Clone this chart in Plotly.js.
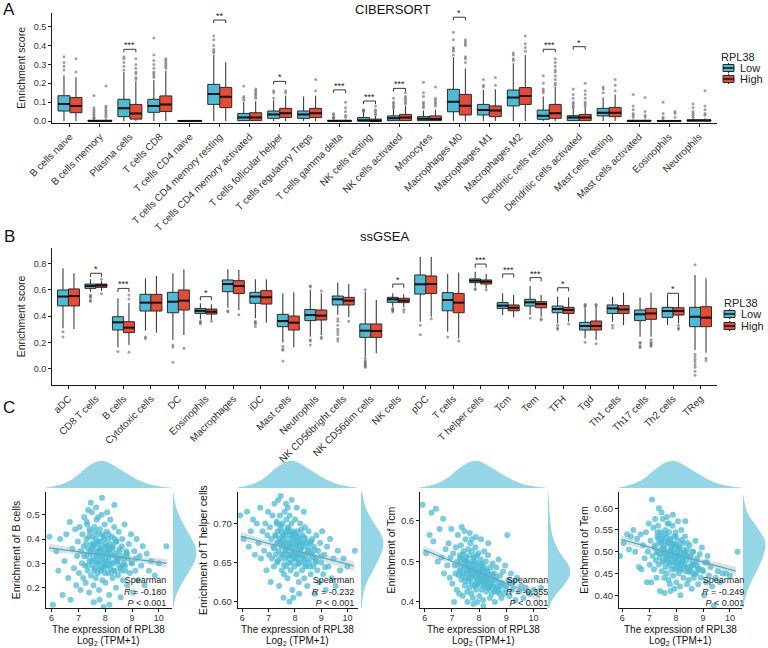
<!DOCTYPE html>
<html>
<head>
<meta charset="utf-8">
<script src="https://cdn.plot.ly/plotly-3.0.1.min.js"></script>
<style>
html,body{margin:0;padding:0;background:#fff}
#chart{width:768px;height:648px;opacity:0.999}
</style>
</head>
<body>
<div id="chart"></div>
<script>
// ---------------- Panel A: CIBERSORT, RPL38 Low vs High ----------------
const ciberCells = ['B cells naive','B cells memory','Plasma cells','T cells CD8','T cells CD4 naive',
  'T cells CD4 memory resting','T cells CD4 memory activated','T cells follicular helper',
  'T cells regulatory Tregs','T cells gamma delta','NK cells resting','NK cells activated','Monocytes',
  'Macrophages M0','Macrophages M1','Macrophages M2','Dendritic cells resting','Dendritic cells activated',
  'Mast cells resting','Mast cells activated','Eosinophils','Neutrophils'];
const ciberLowQ1  = [0.053,0,0.023,0.046,0,0.088,0.002,0.014,0.014,0,0,0.002,0.002,0.049,0.032,0.080,0.009,0.002,0.027,0,0,0];
const ciberLowMed = [0.090,0,0.067,0.080,0,0.143,0.019,0.035,0.035,0,0.002,0.014,0.012,0.102,0.058,0.124,0.028,0.018,0.044,0,0,0.002];
const ciberLowQ3  = [0.134,0.004,0.115,0.115,0.003,0.194,0.040,0.053,0.053,0.004,0.018,0.027,0.023,0.168,0.088,0.164,0.058,0.028,0.067,0.004,0.003,0.006];
const ciberLowMin = [0,0,0,0,0,0,0,0,0,0,0,0,0,0,0,0,0,0,0,0,0,0];
const ciberLowMax = [0.242,0.010,0.260,0.217,0.003,0.350,0.100,0.110,0.130,0.008,0.045,0.065,0.055,0.338,0.164,0.306,0.130,0.065,0.125,0.008,0.005,0.014];
const ciberHighQ1  = [0.044,0,0.010,0.050,0,0.071,0.002,0.019,0.018,0,0,0.002,0.002,0.032,0.023,0.088,0.014,0.002,0.023,0,0,0];
const ciberHighMed = [0.080,0,0.040,0.088,0,0.129,0.019,0.041,0.041,0,0,0.018,0.011,0.081,0.055,0.133,0.041,0.018,0.044,0,0,0.002];
const ciberHighQ3  = [0.124,0.004,0.088,0.133,0.003,0.178,0.044,0.067,0.067,0.004,0.010,0.035,0.027,0.141,0.080,0.177,0.088,0.035,0.072,0.004,0.003,0.006];
const ciberHighMin = [0,0,0,0,0,0,0,0,0,0,0,0,0,0,0,0,0,0,0,0,0,0];
const ciberHighMax = [0.232,0.010,0.210,0.267,0.003,0.311,0.105,0.135,0.134,0.008,0.025,0.080,0.060,0.279,0.168,0.350,0.180,0.075,0.140,0.008,0.005,0.014];
const ciberLowOut = [[0.34,0.31,0.29,0.27],[0.135,0.07,0.06,0.05,0.04,0.03,0.02,0.015],[0.34,0.33,0.31,0.29,0.27],
  [0.44,0.35,0.32,0.30,0.28,0.26,0.25,0.24,0.23],[],[0.45,0.43,0.40,0.38,0.37,0.36],[0.185,0.13,0.12,0.11],
  [0.16,0.15,0.12],[],[0.04,0.03,0.02,0.015],[0.06,0.055,0.05],[0.12,0.10,0.09,0.08,0.07],
  [0.205,0.15,0.13,0.10,0.09,0.08,0.07],[0.47,0.43,0.39,0.38,0.37,0.35],[0.22,0.19,0.18],[0.36,0.35,0.33,0.32],
  [0.24,0.20,0.17,0.16,0.15],[0.17,0.14,0.12,0.10,0.09,0.08,0.07],[0.18,0.17,0.15],[0.14,0.08,0.06,0.04,0.03,0.02],
  [0.10,0.04,0.02,0.01],[0.09,0.07,0.05,0.04,0.03,0.02]];
const ciberHighOut = [[0.33,0.26],[0.185,0.08,0.07,0.06,0.05,0.04,0.03,0.02],[0.33,0.30,0.28,0.26,0.25,0.23,0.22],
  [0.33,0.32,0.31,0.30,0.29,0.28],[],[],[0.17,0.16,0.15,0.14,0.13,0.12],[0.16,0.15],[0.22,0.16],
  [0.10,0.07,0.05,0.03,0.02],[0.08,0.06,0.05,0.04,0.03],[0.15,0.13,0.12,0.11,0.10,0.09],
  [0.18,0.12,0.11,0.10,0.09,0.08],[0.43,0.42,0.41,0.40,0.34,0.33,0.31],[0.23,0.19],[0.45,0.41,0.39,0.37],
  [0.33,0.31,0.29,0.27,0.26,0.24,0.22,0.20,0.19],[0.20,0.16,0.14,0.12,0.10,0.09,0.08],[0.22,0.19,0.16],
  [0.125,0.05,0.03,0.02],[0.05,0.04,0.02],[0.16,0.08,0.06,0.04,0.03]];
const ciberSigIdx = [2,5,7,9,10,11,13,16,17];
const ciberSigLab = ['***','**','*','***','***','***','*','***','*'];
const ciberSigY   = [0.38,0.535,0.21,0.165,0.106,0.173,0.55,0.38,0.394];

// ---------------- Panel B: ssGSEA, RPL38 Low vs High ----------------
const ssCells = ['aDC','CD8 T cells','B cells','Cytotoxic cells','DC','Eosinophils','Macrophages','iDC',
  'Mast cells','Neutrophils','NK CD56bright cells','NK CD56dim cells','NK cells','pDC','T cells',
  'T helper cells','Tcm','Tem','TFH','Tgd','Th1 cells','Th17 cells','Th2 cells','TReg'];
const ssLowQ1  = [0.477,0.610,0.294,0.438,0.425,0.420,0.585,0.497,0.319,0.365,0.484,0.238,0.504,0.567,0.440,0.654,0.458,0.476,0.425,0.294,0.420,0.365,0.390,0.319];
const ssLowMed = [0.548,0.628,0.352,0.502,0.509,0.440,0.643,0.548,0.362,0.408,0.527,0.289,0.527,0.641,0.522,0.669,0.479,0.504,0.453,0.324,0.458,0.413,0.438,0.395];
const ssLowQ3  = [0.598,0.643,0.395,0.565,0.580,0.458,0.674,0.580,0.413,0.450,0.552,0.340,0.542,0.712,0.578,0.682,0.502,0.527,0.476,0.352,0.484,0.446,0.466,0.466];
const ssLowMin = [0.306,0.585,0.162,0.289,0.218,0.375,0.463,0.383,0.198,0.243,0.408,0.091,0.471,0.357,0.281,0.623,0.408,0.408,0.345,0.230,0.357,0.243,0.332,0.142];
const ssLowMax = [0.763,0.679,0.535,0.686,0.725,0.497,0.755,0.679,0.573,0.600,0.654,0.585,0.573,0.850,0.720,0.737,0.573,0.628,0.547,0.460,0.547,0.542,0.552,0.712];
const ssHighQ1  = [0.477,0.618,0.274,0.438,0.446,0.415,0.572,0.491,0.294,0.370,0.484,0.238,0.502,0.572,0.425,0.643,0.440,0.463,0.420,0.294,0.420,0.375,0.408,0.319];
const ssHighMed = [0.552,0.633,0.312,0.502,0.517,0.433,0.628,0.542,0.350,0.403,0.517,0.286,0.517,0.643,0.502,0.661,0.463,0.492,0.446,0.324,0.450,0.420,0.438,0.388];
const ssHighQ3  = [0.606,0.643,0.357,0.565,0.598,0.453,0.669,0.593,0.400,0.446,0.542,0.340,0.535,0.704,0.572,0.674,0.484,0.509,0.466,0.362,0.479,0.458,0.463,0.471];
const ssHighMin = [0.300,0.590,0.180,0.274,0.256,0.370,0.446,0.350,0.162,0.256,0.390,0.117,0.466,0.395,0.230,0.610,0.390,0.395,0.357,0.218,0.332,0.243,0.345,0.122];
const ssHighMax = [0.725,0.665,0.500,0.704,0.755,0.490,0.750,0.679,0.580,0.573,0.643,0.522,0.565,0.850,0.730,0.720,0.560,0.560,0.542,0.476,0.578,0.578,0.547,0.686];
const ssLowOut = [[0.28,0.24],[0.56,0.55,0.54,0.52,0.51],[0.13],[0.24,0.23],[0.18,0.165,0.048],[0.36,0.35,0.34],
  [0.44,0.43],[0.36,0.35,0.34,0.32],[0.17,0.15,0.14,0.058],[0.63,0.62,0.22,0.21,0.18],
  [0.38,0.36,0.33,0.30,0.28,0.26,0.23,0.21],[0.60,0.08,0.06,0.05,0.04,0.03,0.02,0.01],[0.46,0.45,0.44,0.43],
  [0.33,0.26],[0.24],[0.61,0.60],[],[0.385],[0.33,0.31,0.30],[0.49,0.48,0.47,0.20],[0.33,0.31],
  [0.20,0.19,0.17,0.16],[],[0.11,0.09,0.07,0.05,0.03,0.01,-0.02,-0.05,0.79]];
const ssHighOut = [[],[0.68,0.57],[0.56,0.53,0.125],[],[0.155],[0.36],[0.41],[],[],[0.59,0.24,0.23],[0.36],[],
  [0.45,0.43],[0.38],[0.21],[0.60],[],[0.38,0.37],[0.34],[0.49,0.48,0.19],[],[0.22,0.20,0.19,0.18,0.17],
  [0.33,0.31,0.30],[0.08,0.06]];
const ssSigIdx = [1,2,5,12,15,16,17,18,22];
const ssSigLab = ['*','***','*','*','***','***','***','*','*'];
const ssSigY   = [0.725,0.61,0.547,0.643,0.795,0.72,0.692,0.615,0.573];

// ---------------- Panel C: RPL38 expression vs ssGSEA scores ----------------
const rplExpr = [5.92,6.05,6.18,6.25,6.32,6.41,6.48,6.55,6.62,6.68,
  6.71,6.77,6.83,6.88,6.92,6.95,6.98,7.02,7.05,7.08,
  7.10,7.13,7.15,7.18,7.20,7.22,7.25,7.27,7.30,7.31,
  7.33,7.35,7.37,7.40,7.41,7.43,7.45,7.47,7.48,7.50,
  7.52,7.53,7.55,7.56,7.58,7.60,7.61,7.62,7.64,7.65,
  7.67,7.68,7.70,7.71,7.72,7.74,7.75,7.77,7.78,7.80,
  7.81,7.83,7.84,7.86,7.87,7.89,7.90,7.92,7.93,7.95,
  7.96,7.98,8.00,8.01,8.03,8.04,8.06,8.08,8.10,8.11,
  8.13,8.15,8.17,8.19,8.20,8.22,8.25,8.27,8.29,8.31,
  8.33,8.36,8.38,8.40,8.42,8.45,8.47,8.50,8.52,8.55,
  8.58,8.60,8.63,8.66,8.69,8.72,8.75,8.78,8.82,8.85,
  8.88,8.92,8.96,9.00,9.04,9.08,9.12,9.17,9.22,9.28,
  9.34,9.40,9.47,9.55,9.63,9.72,9.85,10.00,10.28,7.46,
  7.66,7.88,8.07,7.57,7.79,8.16,7.36,7.94,8.34,7.73,
  7.21,7.28,7.34,7.39,7.44,7.49,7.54,7.59,7.63,7.69,
  7.74,7.76,7.82,7.85,7.91,7.97,7.99,8.02,8.05,8.09,
  8.12,8.14,8.18,8.21,8.24,8.28,8.32,8.37,8.41,8.46,
  8.51,8.57,8.62,8.68,8.74,8.81,7.42,7.51,7.63,7.70,
  7.79,7.85,7.91,8.00,8.06,8.12,8.23,8.35,8.48,8.64,
  7.31,7.55,7.76,7.97,8.18,8.39,8.59,8.79,8.98,9.15];
const bCellScore = [0.41,0.13,0.35,0.27,0.40,0.17,0.31,0.42,0.24,0.47,
  0.15,0.36,0.28,0.44,0.21,0.33,0.39,0.26,0.45,0.19,
  0.35,0.30,0.42,0.24,0.37,0.49,0.29,0.22,0.40,0.33,
  0.46,0.27,0.36,0.18,0.31,0.43,0.34,0.25,0.38,0.51,
  0.29,0.41,0.32,0.21,0.37,0.45,0.28,0.35,0.40,0.24,
  0.33,0.48,0.30,0.38,0.26,0.42,0.35,0.19,0.31,0.44,
  0.36,0.27,0.39,0.33,0.50,0.23,0.37,0.30,0.41,0.28,
  0.34,0.46,0.32,0.22,0.38,0.29,0.43,0.35,0.26,0.40,
  0.31,0.17,0.36,0.48,0.28,0.33,0.41,0.24,0.37,0.30,
  0.45,0.27,0.34,0.20,0.39,0.31,0.25,0.43,0.29,0.36,
  0.16,0.33,0.40,0.23,0.30,0.46,0.27,0.35,0.21,0.32,
  0.38,0.26,0.42,0.30,0.18,0.35,0.27,0.40,0.23,0.33,
  0.29,0.37,0.21,0.34,0.27,0.31,0.25,0.30,0.37,0.55,
  0.53,0.57,0.51,0.14,0.15,0.13,0.52,0.12,0.54,0.49,
  0.33,0.38,0.29,0.41,0.35,0.31,0.37,0.27,0.43,0.34,
  0.30,0.39,0.36,0.28,0.32,0.40,0.26,0.35,0.31,0.37,
  0.42,0.29,0.34,0.38,0.30,0.36,0.27,0.33,0.39,0.31,
  0.35,0.28,0.37,0.32,0.29,0.34,0.44,0.36,0.31,0.39,
  0.28,0.35,0.42,0.30,0.37,0.33,0.26,0.40,0.32,0.29,
  0.47,0.38,0.33,0.29,0.36,0.31,0.27,0.34,0.30,0.32];
const tHelperScore = [0.710,0.680,0.715,0.670,0.690,0.705,0.660,0.700,0.675,0.720,
  0.655,0.690,0.665,0.700,0.640,0.685,0.715,0.660,0.695,0.625,
  0.680,0.655,0.710,0.670,0.645,0.725,0.685,0.660,0.700,0.675,
  0.650,0.690,0.665,0.620,0.680,0.710,0.655,0.675,0.695,0.640,
  0.670,0.700,0.660,0.685,0.635,0.675,0.715,0.655,0.690,0.670,
  0.645,0.705,0.665,0.680,0.630,0.695,0.660,0.675,0.650,0.710,
  0.670,0.685,0.640,0.660,0.700,0.675,0.615,0.665,0.690,0.655,
  0.680,0.645,0.670,0.705,0.660,0.685,0.635,0.675,0.655,0.690,
  0.665,0.625,0.680,0.650,0.700,0.660,0.675,0.640,0.685,0.655,
  0.670,0.630,0.695,0.660,0.645,0.675,0.620,0.665,0.690,0.650,
  0.675,0.635,0.660,0.680,0.645,0.670,0.610,0.655,0.685,0.640,
  0.665,0.625,0.675,0.650,0.690,0.635,0.660,0.615,0.670,0.645,
  0.680,0.630,0.655,0.620,0.665,0.640,0.655,0.645,0.665,0.735,
  0.725,0.730,0.720,0.605,0.600,0.610,0.730,0.605,0.715,0.720,
  0.668,0.684,0.652,0.676,0.690,0.661,0.679,0.647,0.686,0.670,
  0.657,0.693,0.673,0.650,0.681,0.664,0.688,0.655,0.672,0.660,
  0.683,0.648,0.676,0.667,0.692,0.658,0.674,0.651,0.680,0.662,
  0.669,0.645,0.677,0.656,0.666,0.652,0.698,0.683,0.665,0.689,
  0.671,0.659,0.686,0.663,0.678,0.649,0.668,0.682,0.654,0.661,
  0.702,0.674,0.690,0.657,0.670,0.646,0.663,0.650,0.658,0.644];
const tcmScore = [0.640,0.520,0.565,0.620,0.550,0.630,0.500,0.580,0.510,0.605,
  0.470,0.530,0.490,0.545,0.460,0.510,0.580,0.445,0.520,0.400,
  0.490,0.470,0.535,0.430,0.500,0.565,0.465,0.420,0.515,0.480,
  0.540,0.455,0.495,0.415,0.470,0.525,0.485,0.440,0.505,0.555,
  0.460,0.510,0.475,0.425,0.495,0.530,0.450,0.480,0.515,0.435,
  0.470,0.545,0.460,0.500,0.420,0.525,0.480,0.410,0.465,0.510,
  0.490,0.440,0.500,0.470,0.535,0.430,0.485,0.455,0.515,0.445,
  0.475,0.520,0.460,0.415,0.490,0.450,0.505,0.470,0.430,0.495,
  0.455,0.405,0.480,0.525,0.440,0.465,0.500,0.425,0.475,0.450,
  0.515,0.435,0.460,0.410,0.485,0.445,0.420,0.495,0.440,0.470,
  0.400,0.455,0.485,0.425,0.450,0.505,0.430,0.465,0.410,0.445,
  0.475,0.420,0.490,0.440,0.565,0.455,0.415,0.470,0.430,0.450,
  0.405,0.460,0.425,0.440,0.410,0.435,0.420,0.430,0.435,0.575,
  0.570,0.560,0.555,0.400,0.395,0.390,0.585,0.400,0.545,0.555,
  0.492,0.476,0.505,0.465,0.488,0.452,0.498,0.471,0.460,0.483,
  0.447,0.495,0.468,0.512,0.457,0.480,0.443,0.474,0.462,0.490,
  0.452,0.470,0.438,0.485,0.458,0.446,0.476,0.433,0.466,0.441,
  0.455,0.428,0.462,0.438,0.421,0.447,0.518,0.500,0.487,0.463,
  0.478,0.442,0.496,0.466,0.451,0.482,0.457,0.437,0.468,0.432,
  0.510,0.485,0.473,0.460,0.449,0.455,0.427,0.440,0.432,0.446];
const temScore = [0.490,0.520,0.540,0.505,0.535,0.550,0.500,0.530,0.465,0.540,
  0.460,0.515,0.485,0.545,0.430,0.500,0.565,0.470,0.525,0.430,
  0.620,0.490,0.555,0.460,0.510,0.575,0.480,0.440,0.535,0.500,
  0.560,0.470,0.520,0.410,0.495,0.545,0.505,0.455,0.530,0.575,
  0.480,0.525,0.495,0.440,0.515,0.550,0.465,0.500,0.535,0.450,
  0.490,0.565,0.475,0.520,0.435,0.545,0.500,0.425,0.485,0.530,
  0.510,0.460,0.520,0.490,0.560,0.445,0.505,0.475,0.535,0.460,
  0.495,0.545,0.480,0.430,0.515,0.470,0.525,0.490,0.450,0.510,
  0.475,0.420,0.500,0.550,0.460,0.485,0.520,0.440,0.495,0.470,
  0.535,0.455,0.480,0.425,0.505,0.465,0.435,0.515,0.460,0.490,
  0.415,0.475,0.500,0.440,0.470,0.525,0.450,0.485,0.425,0.460,
  0.495,0.440,0.510,0.455,0.400,0.475,0.430,0.490,0.445,0.465,
  0.420,0.375,0.440,0.455,0.430,0.450,0.450,0.445,0.500,0.590,
  0.580,0.585,0.570,0.405,0.410,0.400,0.600,0.415,0.570,0.565,
  0.515,0.498,0.530,0.488,0.522,0.476,0.508,0.540,0.495,0.482,
  0.526,0.470,0.503,0.491,0.518,0.463,0.535,0.485,0.500,0.472,
  0.512,0.458,0.494,0.527,0.480,0.505,0.466,0.490,0.520,0.454,
  0.487,0.468,0.500,0.448,0.478,0.460,0.538,0.510,0.486,0.524,
  0.497,0.475,0.515,0.489,0.506,0.462,0.481,0.499,0.457,0.470,
  0.545,0.503,0.519,0.484,0.471,0.493,0.452,0.467,0.458,0.476];

// marginal density of RPL38 expression (top strips)
const exprDensX = [5.75,6.0,6.3,6.6,6.9,7.2,7.5,7.75,7.9,8.1,8.4,8.7,9.0,9.3,9.6,9.9,10.2,10.45];
const exprDensY = [0.01,0.03,0.07,0.14,0.25,0.40,0.53,0.59,0.60,0.57,0.47,0.36,0.25,0.16,0.09,0.05,0.02,0.005];
// marginal densities of the scores (right strips)
const bCellDensV = [0.12,0.16,0.20,0.24,0.28,0.31,0.34,0.37,0.40,0.44,0.48,0.52,0.56,0.59];
const bCellDensD = [0.1,0.5,1.3,2.4,3.6,4.3,4.6,4.4,3.7,2.6,1.6,0.8,0.3,0.1];
const tHelperDensV = [0.59,0.61,0.625,0.64,0.655,0.665,0.675,0.685,0.695,0.71,0.72,0.735,0.745];
const tHelperDensD = [0.5,2,5,10,15,17.5,18.5,17,13,7,4,1.5,0.5];
const tcmDensV = [0.38,0.40,0.42,0.44,0.46,0.475,0.49,0.51,0.53,0.56,0.59,0.62,0.65,0.67];
const tcmDensD = [0.3,1.5,4,7,9.5,10.2,9.5,7,4.5,2.2,1.2,0.7,0.4,0.1];
const temDensV = [0.37,0.39,0.41,0.43,0.45,0.47,0.49,0.51,0.52,0.53,0.55,0.57,0.59,0.61,0.63];
const temDensD = [0.3,1,2.5,4.5,7,9.5,11.5,12.5,12.6,12,9,5.5,2.5,1,0.3];

// linear fits with confidence bands
const bCellFitX = [5.91,8.0,10.29], bCellFitY = [0.364,0.334,0.300], bCellFitLo = [0.346,0.329,0.282], bCellFitHi = [0.382,0.339,0.318];
const tHelperFitX = [5.94,8.0,10.24], tHelperFitY = [0.6837,0.6655,0.6457], tHelperFitLo = [0.678,0.6635,0.639], tHelperFitHi = [0.689,0.6675,0.652];
const tcmFitX = [5.95,8.0,10.25], tcmFitY = [0.529,0.4732,0.412], tcmFitLo = [0.519,0.4705,0.400], tcmFitHi = [0.539,0.476,0.424];
const temFitX = [5.96,8.0,10.22], temFitY = [0.5285,0.4936,0.4556], temFitLo = [0.519,0.491,0.445], temFitHi = [0.538,0.496,0.466];

const corrR = ['-0.180','-0.232','-0.355','-0.249'];
const corrTitles = ['Enrichment of B cells','Enrichment of T helper cells','Enrichment of Tcm','Enrichment of Tem'];

// ---------------- drawing ----------------
const W = 768, H = 648;
const px = v => v / W, py = v => 1 - v / H;
const LOW_COL = '#4DBBD5', HIGH_COL = '#E64B35';
const OFF = 0.2, BW = 0.4;
const FONT = 'Liberation Sans, Arial, Helvetica, sans-serif';
const traces = [];
const annotations = [];
const shapes = [];

function boxTrace(sign, q1, med, q3, lo, hi, color, xa, ya) {
  return {type:'box', x:q1.map((_, i) => i + sign*OFF), q1, median:med, q3, lowerfence:lo, upperfence:hi,
    width:BW, whiskerwidth:0, boxpoints:false, fillcolor:color, line:{color:'#2b2b2b', width:1},
    xaxis:xa, yaxis:ya, showlegend:false, hoverinfo:'skip'};
}
function medianTrace(sign, med, xa, ya) {
  const x = [], y = [];
  med.forEach((m, i) => { x.push(i + sign*OFF - BW/2, i + sign*OFF + BW/2, null); y.push(m, m, null); });
  return {type:'scatter', mode:'lines', x, y, line:{color:'#111', width:2}, xaxis:xa, yaxis:ya, showlegend:false, hoverinfo:'skip'};
}
function outlierTrace(sign, outs, xa, ya) {
  const x = [], y = [];
  outs.forEach((arr, i) => arr.forEach(v => { x.push(i + sign*OFF); y.push(v); }));
  return {type:'scatter', mode:'markers', x, y, marker:{color:'rgba(70,70,70,0.5)', size:3},
    xaxis:xa, yaxis:ya, showlegend:false, hoverinfo:'skip'};
}
function sigMarks(idx, lab, hgt, tip, xa, ya) {
  const x = [], y = [];
  idx.forEach((i, k) => {
    x.push(i - OFF, i - OFF, i + OFF, i + OFF, null);
    y.push(hgt[k] - tip, hgt[k], hgt[k], hgt[k] - tip, null);
    annotations.push({x:i, y:hgt[k], xref:xa, yref:ya, text:lab[k], showarrow:false, yanchor:'bottom',
      yshift:-3, font:{size:9, color:'#222'}});
  });
  traces.push({type:'scatter', mode:'lines', x, y, line:{color:'#222', width:0.9}, xaxis:xa, yaxis:ya, showlegend:false, hoverinfo:'skip'});
}

// Panel A boxes
traces.push(boxTrace(-1, ciberLowQ1, ciberLowMed, ciberLowQ3, ciberLowMin, ciberLowMax, LOW_COL, 'x', 'y'));
traces.push(boxTrace(1, ciberHighQ1, ciberHighMed, ciberHighQ3, ciberHighMin, ciberHighMax, HIGH_COL, 'x', 'y'));
traces.push(outlierTrace(-1, ciberLowOut, 'x', 'y'));
traces.push(outlierTrace(1, ciberHighOut, 'x', 'y'));
traces.push(medianTrace(-1, ciberLowMed, 'x', 'y'));
traces.push(medianTrace(1, ciberHighMed, 'x', 'y'));
sigMarks(ciberSigIdx, ciberSigLab, ciberSigY, 0.016, 'x', 'y');

// Panel B boxes
traces.push(boxTrace(-1, ssLowQ1, ssLowMed, ssLowQ3, ssLowMin, ssLowMax, LOW_COL, 'x2', 'y2'));
traces.push(boxTrace(1, ssHighQ1, ssHighMed, ssHighQ3, ssHighMin, ssHighMax, HIGH_COL, 'x2', 'y2'));
traces.push(outlierTrace(-1, ssLowOut, 'x2', 'y2'));
traces.push(outlierTrace(1, ssHighOut, 'x2', 'y2'));
traces.push(medianTrace(-1, ssLowMed, 'x2', 'y2'));
traces.push(medianTrace(1, ssHighMed, 'x2', 'y2'));
sigMarks(ssSigIdx, ssSigLab, ssSigY, 0.028, 'x2', 'y2');

// Panel C scatter plots with marginal densities
const cPanels = [
  {score:bCellScore, dv:bCellDensV, dd:bCellDensD, fx:bCellFitX, fy:bCellFitY, lo:bCellFitLo, hi:bCellFitHi},
  {score:tHelperScore, dv:tHelperDensV, dd:tHelperDensD, fx:tHelperFitX, fy:tHelperFitY, lo:tHelperFitLo, hi:tHelperFitHi},
  {score:tcmScore, dv:tcmDensV, dd:tcmDensD, fx:tcmFitX, fy:tcmFitY, lo:tcmFitLo, hi:tcmFitHi},
  {score:temScore, dv:temDensV, dd:temDensD, fx:temFitX, fy:temFitY, lo:temFitLo, hi:temFitHi}
];
cPanels.forEach((p, k) => {
  const xa = 'x' + (k + 3), ya = 'y' + (k + 3), xd = 'x' + (k + 7);
  traces.push({type:'scatter', mode:'markers', x:rplExpr, y:p.score, xaxis:xa, yaxis:ya,
    marker:{color:'rgba(77,187,213,0.75)', size:6}, showlegend:false, hoverinfo:'skip', cliponaxis:true});
  traces.push({type:'scatter', mode:'lines', x:p.fx.concat(p.fx.slice().reverse()), y:p.lo.concat(p.hi.slice().reverse()),
    fill:'toself', fillcolor:'rgba(170,170,170,0.35)', line:{width:0}, xaxis:xa, yaxis:ya, showlegend:false, hoverinfo:'skip'});
  traces.push({type:'scatter', mode:'lines', x:p.fx, y:p.fy, line:{color:'#3FB3D2', width:1.2}, xaxis:xa, yaxis:ya, showlegend:false, hoverinfo:'skip'});
  traces.push({type:'scatter', mode:'lines', x:exprDensX, y:exprDensY, fill:'tozeroy', fillcolor:'rgba(77,187,213,0.6)',
    line:{width:0, shape:'spline'}, xaxis:xa, yaxis:'y7', showlegend:false, hoverinfo:'skip'});
  traces.push({type:'scatter', mode:'lines', x:p.dd, y:p.dv, fill:'tozerox', fillcolor:'rgba(77,187,213,0.6)',
    line:{width:0, shape:'spline'}, xaxis:xd, yaxis:ya, showlegend:false, hoverinfo:'skip'});
});

// axes
const tickFontAB = {size:10, color:'#333333', family:FONT};
const tickFontC = {size:9.5, color:'#333333', family:FONT};
const axBase = {showline:true, linecolor:'#1a1a1a', linewidth:1, ticks:'outside', ticklen:3, tickcolor:'#1a1a1a',
  tickwidth:1, showgrid:false, zeroline:false, fixedrange:true, tickfont:{size:9, color:'#333333', family:FONT}};
const layout = {
  width:W, height:H, margin:{l:0, r:0, t:0, b:0}, paper_bgcolor:'#fff', plot_bgcolor:'rgba(0,0,0,0)',
  font:{family:FONT, color:'#222'}, showlegend:false,
  xaxis:Object.assign({}, axBase, {domain:[px(52), px(717)], range:[-0.6, 21.6], anchor:'y',
    tickvals:ciberCells.map((_, i) => i), ticktext:ciberCells, tickangle:-45, tickfont:tickFontAB}),
  yaxis:Object.assign({}, axBase, {domain:[py(123), py(12.7)], range:[-0.0106, 0.574], anchor:'x',
    tickvals:[0,0.1,0.2,0.3,0.4,0.5], tickformat:'.1f', title:{text:'Enrichment score', font:{size:10.5}, standoff:6}}),
  xaxis2:Object.assign({}, axBase, {domain:[px(52), px(717)], range:[-0.6, 23.6], anchor:'y2',
    tickvals:ssCells.map((_, i) => i), ticktext:ssCells, tickangle:-45, tickfont:tickFontAB}),
  yaxis2:Object.assign({}, axBase, {domain:[py(385), py(248)], range:[-0.124, 0.917], anchor:'x2',
    tickvals:[0,0.2,0.4,0.6,0.8], tickformat:'.1f', title:{text:'Enrichment score', font:{size:10.5}, standoff:6}}),
  yaxis7:{domain:[py(488), py(459)], range:[0, 0.64], anchor:'x3', visible:false, fixedrange:true},
  annotations, shapes
};
const cGeom = [
  {x0:45.7, x1:172, xr:[5.78,10.49], yr:[0.115,0.595], yt:[0.2,0.3,0.4,0.5], yf:'.1f', d0:173, d1:197, sx:166.7},
  {x0:237.7, x1:358, xr:[5.825,10.40], yr:[0.5915,0.7405], yt:[0.60,0.65,0.70], yf:'.2f', d0:361, d1:384, sx:355},
  {x0:420, x1:547, xr:[5.827,10.50], yr:[0.3844,0.672], yt:[0.4,0.5,0.6], yf:'.1f', d0:548, d1:571, sx:549},
  {x0:619, x1:742, xr:[5.877,10.45], yr:[0.370,0.638], yt:[0.40,0.45,0.50,0.55,0.60], yf:'.2f', d0:743, d1:766, sx:745}
];
cGeom.forEach((g, k) => {
  const n = k + 3;
  layout['xaxis' + n] = Object.assign({}, axBase, {domain:[px(g.x0), px(g.x1)], range:g.xr, anchor:'y' + n,
    tickvals:[6,7,8,9,10], tickfont:{size:9, color:'#333333', family:FONT}, ticklabelstandoff:-2});
  layout['yaxis' + n] = Object.assign({}, axBase, {domain:[py(608.3), py(491.7)], range:g.yr, anchor:'x' + n,
    tickvals:g.yt, tickformat:g.yf, tickfont:tickFontC,
    title:{text:corrTitles[k], font:{size:10.5, color:'#111'}, standoff:3}});
  const dmax = Math.max.apply(null, cPanels[k].dd);
  layout['xaxis' + (k + 7)] = {domain:[px(g.d0), px(g.d1)], range:[0, dmax * 1.03], anchor:'y' + n, visible:false, fixedrange:true};
  // x-axis title, two lines
  const xc = px((g.x0 + g.x1) / 2);
  annotations.push({x:xc, y:py(629.8), xref:'paper', yref:'paper', text:'The expression of RPL38', showarrow:false,
    xanchor:'center', yanchor:'middle', borderpad:0, font:{size:10, color:'#111'}});
  annotations.push({x:xc, y:py(641), xref:'paper', yref:'paper', text:'Log<sub>2</sub> (TPM+1)', showarrow:false,
    xanchor:'center', yanchor:'middle', borderpad:0, font:{size:10, color:'#111'}});
  // correlation statistics block
  annotations.push({x:px(g.sx), y:py(591.5), xref:'paper', yref:'paper',
    text:'Spearman<br><i>R</i> = ' + corrR[k] + '<br><i>P</i> < 0.001', showarrow:false, align:'right',
    xanchor:'right', yanchor:'middle', borderpad:0, font:{size:9, color:'#222'}});
});

// panel letters and titles
[['A', 9, 10], ['B', 9, 237], ['C', 9, 407]].forEach(t => annotations.push({x:px(t[1]), y:py(t[2]), xref:'paper', yref:'paper',
  text:t[0], showarrow:false, xanchor:'center', yanchor:'middle', font:{size:17, color:'#111'}}));
[['CIBERSORT', 393, 10], ['ssGSEA', 384, 237]].forEach(t => annotations.push({x:px(t[1]), y:py(t[2]), xref:'paper', yref:'paper',
  text:t[0], showarrow:false, xanchor:'center', yanchor:'middle', font:{size:13, color:'#111'}}));

// legends (RPL38 Low / High) for panels A and B
function legendBlock(xTitle, yTitle, xKey, yLow, yHigh) {
  annotations.push({x:px(xTitle), y:py(yTitle), xref:'paper', yref:'paper', text:'RPL38', showarrow:false,
    xanchor:'left', yanchor:'middle', font:{size:11, color:'#222'}});
  [[yLow, LOW_COL, 'Low'], [yHigh, HIGH_COL, 'High']].forEach(r => {
    const yc = r[0];
    shapes.push({type:'line', xref:'paper', yref:'paper', x0:px(xKey + 5.5), x1:px(xKey + 5.5), y0:py(yc - 5), y1:py(yc + 5), line:{color:'#2b2b2b', width:1}});
    shapes.push({type:'rect', xref:'paper', yref:'paper', x0:px(xKey), x1:px(xKey + 11), y0:py(yc - 3.5), y1:py(yc + 3.5), fillcolor:r[1], line:{color:'#2b2b2b', width:1}});
    shapes.push({type:'line', xref:'paper', yref:'paper', x0:px(xKey), x1:px(xKey + 11), y0:py(yc), y1:py(yc), line:{color:'#111', width:1.5}});
    annotations.push({x:px(xKey + 15), y:py(yc), xref:'paper', yref:'paper', text:r[2], showarrow:false,
      xanchor:'left', yanchor:'middle', font:{size:11, color:'#222'}});
  });
}
legendBlock(719, 57, 723, 68, 79);
legendBlock(722, 303, 724, 314, 326);

Plotly.newPlot('chart', traces, layout, {displayModeBar:false, staticPlot:true});
</script>
</body>
</html>
